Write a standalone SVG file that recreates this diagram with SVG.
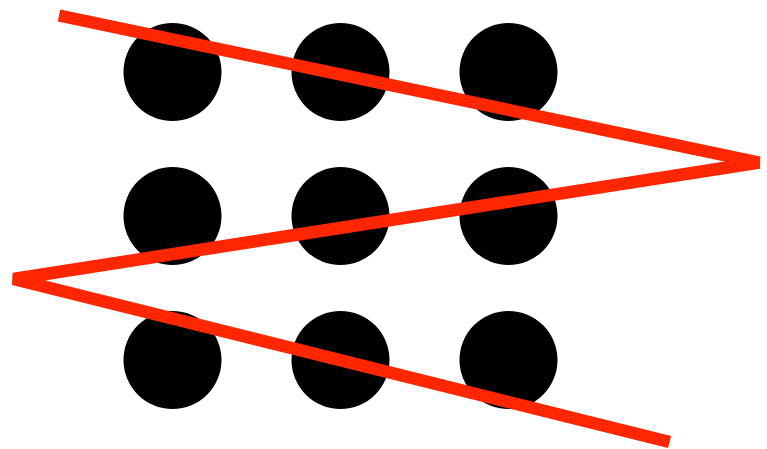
<svg xmlns="http://www.w3.org/2000/svg" width="767" height="449" viewBox="0 0 767 449">
<style>
.dot{fill:#000}
.path{fill:none;stroke:#ff2600;stroke-width:12.5;stroke-linecap:butt;stroke-linejoin:miter;stroke-miterlimit:4}
</style>
<rect width="767" height="449" fill="#fff"/>
<g id="dots">
<g id="d11"><circle class="dot" cx="172.5" cy="72" r="49"/></g>
<g id="d12"><circle class="dot" cx="340.5" cy="72" r="49"/></g>
<g id="d13"><circle class="dot" cx="508.5" cy="72" r="49"/></g>
<g id="d21"><circle class="dot" cx="172.5" cy="216" r="49"/></g>
<g id="d22"><circle class="dot" cx="340.5" cy="216" r="49"/></g>
<g id="d23"><circle class="dot" cx="508.5" cy="216" r="49"/></g>
<g id="d31"><circle class="dot" cx="172.5" cy="360" r="49"/></g>
<g id="d32"><circle class="dot" cx="340.5" cy="360" r="49"/></g>
<g id="d33"><circle class="dot" cx="508.5" cy="360" r="49"/></g>
</g>
<g id="connectors">
<polyline class="path" points="59,15.5 759,162.5 13.5,279 669.5,442"/>
</g>
</svg>
